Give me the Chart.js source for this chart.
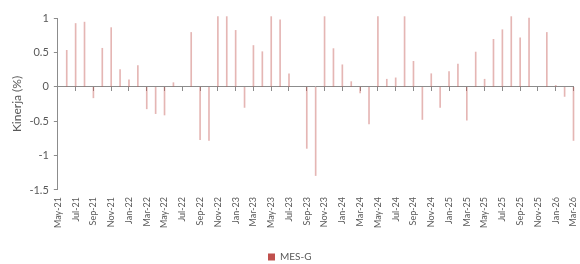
<!DOCTYPE html>
<html><head><meta charset="utf-8">
<script src="https://cdn.jsdelivr.net/npm/chart.js@4"></script>
<style>html,body{margin:0;padding:0;background:#fff}#wrap{width:580px;height:264px}</style>
</head><body><div id="wrap"><canvas id="c" width="580" height="264"></canvas></div>
<script>
const months = ['May-21','Jun-21','Jul-21','Aug-21','Sep-21','Oct-21','Nov-21','Dec-21',
  'Jan-22','Feb-22','Mar-22','Apr-22','May-22','Jun-22','Jul-22','Aug-22','Sep-22','Oct-22','Nov-22','Dec-22',
  'Jan-23','Feb-23','Mar-23','Apr-23','May-23','Jun-23','Jul-23','Aug-23','Sep-23','Oct-23','Nov-23','Dec-23',
  'Jan-24','Feb-24','Mar-24','Apr-24','May-24','Jun-24','Jul-24','Aug-24','Sep-24','Oct-24','Nov-24','Dec-24',
  'Jan-25','Feb-25','Mar-25','Apr-25','May-25','Jun-25','Jul-25','Aug-25','Sep-25','Oct-25','Nov-25','Dec-25',
  'Jan-26','Feb-26','Mar-26'];
const mesG = [null,0.53,0.92,0.94,-0.16,0.56,0.86,0.25,
  0.10,0.31,-0.32,-0.39,-0.41,0.06,null,0.79,-0.77,-0.78,1.02,1.02,
  0.82,-0.30,0.60,0.51,1.02,0.975,0.19,null,-0.895,-1.29,1.02,0.555,
  0.32,0.075,-0.09,-0.54,1.02,0.11,0.13,1.02,0.37,-0.475,0.19,-0.30,
  0.22,0.33,-0.485,0.505,0.11,0.69,0.83,1.02,0.71,1.0,null,0.79,
  0.02,-0.14,-0.78];
const seriesName = 'MES-G';
const yTitle = 'Kinerja (%)';
const yMin = -1.5, yMax = 1, yStep = 0.5;

const FONT = 'Lato';
const TXT = '#595959';
const AXIS = '#8c8c8c';

new Chart(document.getElementById('c'), {
  type: 'bar',
  data: {
    labels: months,
    datasets: [{
      label: seriesName,
      data: mesG,
      backgroundColor: 'rgba(192,80,77,0.42)',
      borderWidth: 0,
      barThickness: 1,
      clip: false,
      xAxisID: 'x',
      yAxisID: 'y'
    }]
  },
  options: {
    responsive: false,
    animation: false,
    layout: {padding: {left: 6, right: 6.5, top: 18, bottom: 0}},
    plugins: {
      tooltip: {enabled: false},
      legend: {
        position: 'bottom',
        maxHeight: 14,
        labels: {
          boxWidth: 7, boxHeight: 7, padding: 2,
          font: {family: FONT, size: 10}, color: TXT,
          generateLabels: (chart) => {
            const items = Chart.defaults.plugins.legend.labels.generateLabels(chart);
            items.forEach(it => { it.fillStyle = '#C0504D'; it.strokeStyle = '#C0504D'; it.lineWidth = 0; });
            return items;
          }
        }
      }
    },
    scales: {
      x: {
        type: 'category', offset: false,
        grid: {display: false, drawTicks: true, tickLength: 7}, border: {display: false},
        ticks: {
          autoSkip: false, maxRotation: 90, minRotation: 90, padding: 0,
          font: {family: FONT, size: 9}, color: TXT,
          callback: (v, i) => (i % 2 === 0 ? months[i] : '')
        },
        title: {display: true, text: ' ', font: {family: FONT, size: 10}, padding: {top: 5, bottom: 5}},
        afterFit: (s) => { s.paddingRight = 0; s.paddingLeft = 0; }
      },
      xz: {
        type: 'category', offset: false, position: {y: 0}, z: 1,
        grid: {
          offset: false, drawOnChartArea: false, drawTicks: true, tickLength: 4,
          color: (c) => (c.index % 2 === 0 ? AXIS : 'rgba(0,0,0,0)')
        },
        border: {display: true, color: AXIS, width: 1},
        ticks: {display: false}
      },
      y: {
        min: yMin, max: yMax, z: 1,
        grid: {drawOnChartArea: false, drawTicks: true, tickLength: 4, color: AXIS},
        border: {display: true, color: AXIS},
        ticks: {stepSize: yStep, padding: 5, font: {family: FONT, size: 11}, color: TXT,
          callback: (v) => String(v)},
        title: {display: true, text: yTitle, font: {family: FONT, size: 12}, color: TXT, padding: {top: 4, bottom: 0}}
      }
    }
  }
});
</script>
</body></html>
